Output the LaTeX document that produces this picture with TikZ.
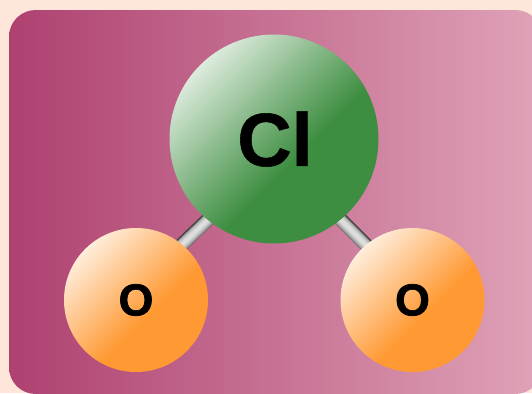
\documentclass[tikz,border=0pt]{standalone}
\usepackage{fontspec}
\setmainfont{Liberation Sans}
\newfontfamily\heavyO[Scale=1,RawFeature={embolden=1.6}]{Liberation Sans Bold}
\newfontfamily\heavyCl[Scale=1,RawFeature={embolden=0.7}]{Liberation Sans Bold}
\definecolor{pagebg}{HTML}{FFE6DA}
\definecolor{panelL}{HTML}{AE4170}
\definecolor{panelR}{HTML}{E0A3B8}
\definecolor{clLight}{HTML}{FFFFFF}
\definecolor{clDark}{HTML}{3E8E41}
\definecolor{oLight}{HTML}{FFFFFF}
\definecolor{oDark}{HTML}{FF9933}
\pgfdeclareverticalshading{clshade}{100bp}{color(0bp)=(clDark);color(43bp)=(clDark);color(82bp)=(clLight);color(100bp)=(clLight)}
\pgfdeclareverticalshading{oshade}{100bp}{color(0bp)=(oDark);color(43bp)=(oDark);color(82bp)=(oLight);color(100bp)=(oLight)}
\tikzset{
  atom/.style={circle,inner sep=0pt,text=black},
  clatom/.style={atom,minimum size=156.75pt,shading=clshade,shading angle=45,font=\heavyCl\fontsize{56.5}{57}\selectfont},
  oatom/.style={atom,minimum size=108pt,shading=oshade,shading angle=45,font=\heavyO\fontsize{33.5}{34}\selectfont},
  bondline/.style={line cap=butt}
}
\begin{document}
\begin{tikzpicture}[x=0.75pt,y=-0.75pt]
\useasboundingbox (0,0) rectangle (532,393);
\clip (0,0) rectangle (532,393);
\fill[pagebg] (0,0) rectangle (532,393);
\shade[left color=panelL,right color=panelR,rounded corners=20pt] (9,10) rectangle (542,394);
\coordinate (la) at (168,258);
\coordinate (lb) at (218,210);
\coordinate (ra) at (330,209);
\coordinate (rb) at (379,258);
\foreach \w/\c in {13.5/black!62!white,12.5/black!45!white,11/black!36!white,9/black!28!white,7/black!21!white,5/black!16!white,3/black!13!white}{
  \draw[bondline,line width=\w*0.75pt,color=\c] (la)--(lb);
  \draw[bondline,line width=\w*0.75pt,color=\c] (ra)--(rb);
}
\draw[bondline,line width=1.1pt,color=black!72!white] ([shift={(-4.6,-4.6)}]la)--([shift={(-4.6,-4.6)}]lb);
\draw[bondline,line width=1.1pt,color=black!72!white] ([shift={(4.6,-4.6)}]ra)--([shift={(4.6,-4.6)}]rb);
\node[clatom] (cl) at (274,139) {\kern1.5pt Cl};
\node[oatom] (ol) at (136,300) {O};
\node[oatom] (or) at (412.5,300) {O};
\end{tikzpicture}
\end{document}
